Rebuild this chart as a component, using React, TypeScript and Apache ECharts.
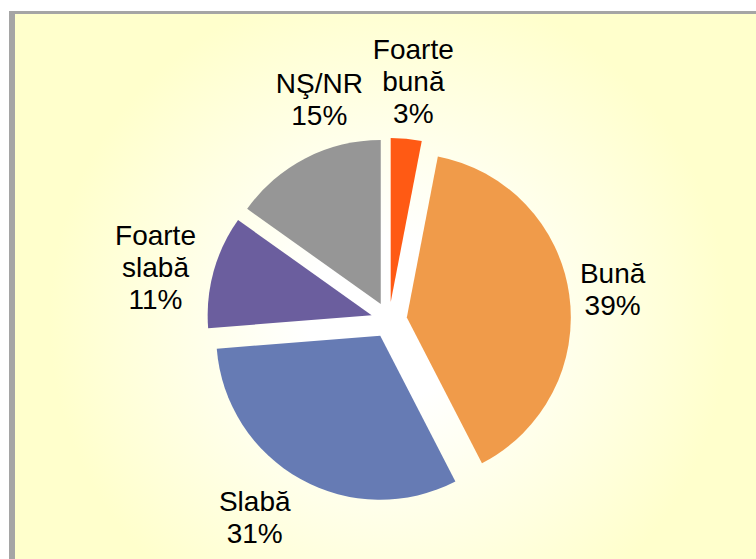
import React, { useEffect, useRef } from "react";
import * as echarts from "echarts";

// Data
const categories = ["Foarte bună", "Bună", "Slabă", "Foarte slabă", "NŞ/NR"];
const values = [3, 39, 31, 11, 15];
const colors = ["#FF5A14", "#F09B4A", "#667BB4", "#6B5E9E", "#969696"];

// Layout / styling constants
const CX = 389;
const CY = 320;
const RADIUS = 164;
const EXPLODE = 18;
const LABEL_DIST = 235;
const labelNudge: number[][] = [
  [2, -5],
  [-9, 3],
  [-20, -8],
  [-7, 10],
  [38, -12],
];

export default function App() {
  const ref = useRef<HTMLDivElement>(null);

  useEffect(() => {
    if (!ref.current) return;
    const chart = echarts.init(ref.current, null, { renderer: "svg" });
    const total = values.reduce((a, b) => a + b, 0);
    const mids: number[] = [];
    let cum = 0;
    values.forEach((v) => {
      mids.push(((cum + v / 2) / total) * Math.PI * 2);
      cum += v;
    });

    chart.setOption({
      animation: false,
      backgroundColor: "transparent",
      series: [
        {
          type: "pie",
          center: [CX, CY],
          radius: RADIUS,
          startAngle: 90,
          clockwise: true,
          selectedMode: "multiple",
          selectedOffset: EXPLODE,
          silent: true,
          label: { show: false },
          labelLine: { show: false },
          itemStyle: { borderWidth: 0 },
          emphasis: { disabled: true },
          select: { itemStyle: { borderWidth: 0 } },
          data: categories.map((name, i) => ({
            name,
            value: values[i],
            selected: true,
            itemStyle: { color: colors[i] },
            select: { itemStyle: { color: colors[i], borderWidth: 0 } },
          })),
        },
        {
          type: "pie",
          center: [CX, CY],
          radius: RADIUS,
          startAngle: 90,
          clockwise: true,
          selectedMode: false,
          silent: true,
          avoidLabelOverlap: false,
          itemStyle: { color: "rgba(0,0,0,0)", borderWidth: 0 },
          emphasis: { disabled: true },
          label: {
            show: true,
            position: "outside",
            formatter: (p: any) =>
              categories[p.dataIndex].replace(" ", "\n") + "\n" + p.value + "%",
            fontFamily: "'Liberation Sans', Arial, sans-serif",
            fontSize: 28,
            lineHeight: 32,
            color: "#000000",
          },
          labelLine: { show: false },
          labelLayout: (p: any) => {
            const i = p.dataIndex;
            const a = mids[i];
            const dx = Math.sin(a);
            const dy = -Math.cos(a);
            return {
              x: CX + LABEL_DIST * dx + labelNudge[i][0],
              y: CY + LABEL_DIST * dy + labelNudge[i][1],
              align: "center",
              verticalAlign: "middle",
            };
          },
          data: categories.map((name, i) => ({ name, value: values[i] })),
        },
      ],
    });
    return () => chart.dispose();
  }, []);

  return (
    <div
      style={{
        position: "fixed",
        left: 0,
        top: 0,
        width: 756,
        height: 559,
        overflow: "hidden",
        background: "#ffffff",
      }}
    >
      <div
        style={{
          position: "absolute",
          left: 9,
          top: 11,
          width: 760,
          height: 560,
          borderLeft: "6px solid #A5A5A5",
          borderTop: "3px solid #A5A5A5",
          background:
            "radial-gradient(circle at 374px 306px, #FFFFFF 0px, #FFFFFF 80px, #FFFFCC 340px)",
        }}
      />
      <div
        ref={ref}
        style={{ position: "absolute", left: 0, top: 0, width: 756, height: 559 }}
      />
    </div>
  );
}
